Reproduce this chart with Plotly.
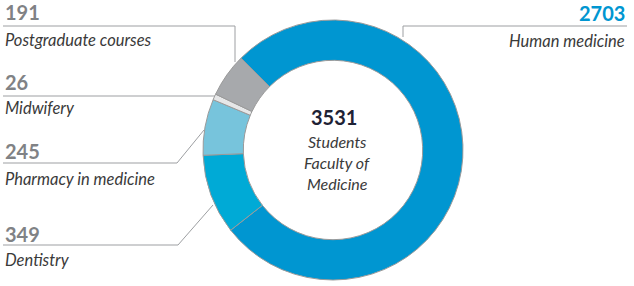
import plotly.graph_objects as go

W, H = 634, 286

# ---- data ----
categories = ["Human medicine", "Dentistry", "Pharmacy in medicine", "Midwifery", "Postgraduate courses"]
students = [2703, 349, 245, 26, 191]
total_label = "3531"
center_lines = ["Students", "Faculty of", "Medicine"]

# ---- styles ----
colors = ["#0096D1", "#00AAD6", "#77C4DC", "#E6E7E8", "#A7A9AC"]
value_colors = ["#0096D1", "#808285", "#808285", "#808285", "#808285"]
line_col = "#9D9FA2"

def px(x):
    return x / W

def py(y):
    return 1 - y / H

cx, cy, R = 333, 150, 130

fig = go.Figure()
fig.add_trace(go.Pie(
    labels=categories, values=students, marker=dict(colors=colors, line=dict(color="#9A9A9A", width=1)),
    hole=0.69, sort=False, direction="clockwise", rotation=-45,
    textinfo="none", hoverinfo="skip", showlegend=False,
    domain=dict(x=[px(cx - R), px(cx + R)], y=[py(cy + R), py(cy - R)]),
))

# label layout: (value y, name y, x, anchor)
label_pos = {
    "Human medicine": (12.5, 41, 627, "right"),
    "Postgraduate courses": (12, 40, 3, "left"),
    "Midwifery": (82.5, 108, 3, "left"),
    "Pharmacy in medicine": (151, 179, 3, "left"),
    "Dentistry": (233.5, 260, 3, "left"),
}
ann = []
for name, val, vc in zip(categories, students, value_colors):
    vy, ny, x, anc = label_pos[name]
    ann.append(dict(x=px(x), y=py(vy), xref="paper", yref="paper", text=f"<b>{val}</b>",
                    showarrow=False, xanchor=anc, yanchor="middle",
                    font=dict(family="Lato", size=20, color=vc, weight=900)))
    ann.append(dict(x=px(x), y=py(ny), xref="paper", yref="paper", text=f"<i>{name}</i>",
                    showarrow=False, xanchor=anc, yanchor="middle",
                    font=dict(family="Lato", size=16.5, color="#3A3A3A")))

ann.append(dict(x=px(334), y=py(117), xref="paper", yref="paper", text=f"<b>{total_label}</b>",
                showarrow=False, xanchor="center", yanchor="middle",
                font=dict(family="Lato", size=20, color="#1E2235", weight=900)))
for t, yy in zip(center_lines, [141, 162, 183]):
    ann.append(dict(x=px(337), y=py(yy), xref="paper", yref="paper", text=f"<i>{t}</i>",
                    showarrow=False, xanchor="center", yanchor="middle",
                    font=dict(family="Lato", size=16, color="#3A3A3A")))

leaders = [
    [(3, 26), (235, 26), (235, 62)],
    [(3, 96), (215, 96)],
    [(3, 163), (177, 163), (204, 130)],
    [(3, 245), (178, 245), (213, 205)],
    [(403, 37), (403, 26), (627, 26)],
]
shapes = []
for pts in leaders:
    path = "M " + " L ".join(f"{px(a)},{py(b)}" for a, b in pts)
    shapes.append(dict(type="path", path=path, xref="paper", yref="paper",
                       line=dict(color=line_col, width=1)))

fig.update_layout(width=W, height=H, margin=dict(l=0, r=0, t=0, b=0),
                  paper_bgcolor="white", plot_bgcolor="white",
                  annotations=ann, shapes=shapes)
fig.write_html("out.html", config={"displayModeBar": False})

with open("out.html", encoding="utf-8") as f:
    html = f.read()
html = html.replace("<head>", "<head><style>html,body{margin:0;padding:0;overflow:hidden;}</style>", 1)
with open("out.html", "w", encoding="utf-8") as f:
    f.write(html)
